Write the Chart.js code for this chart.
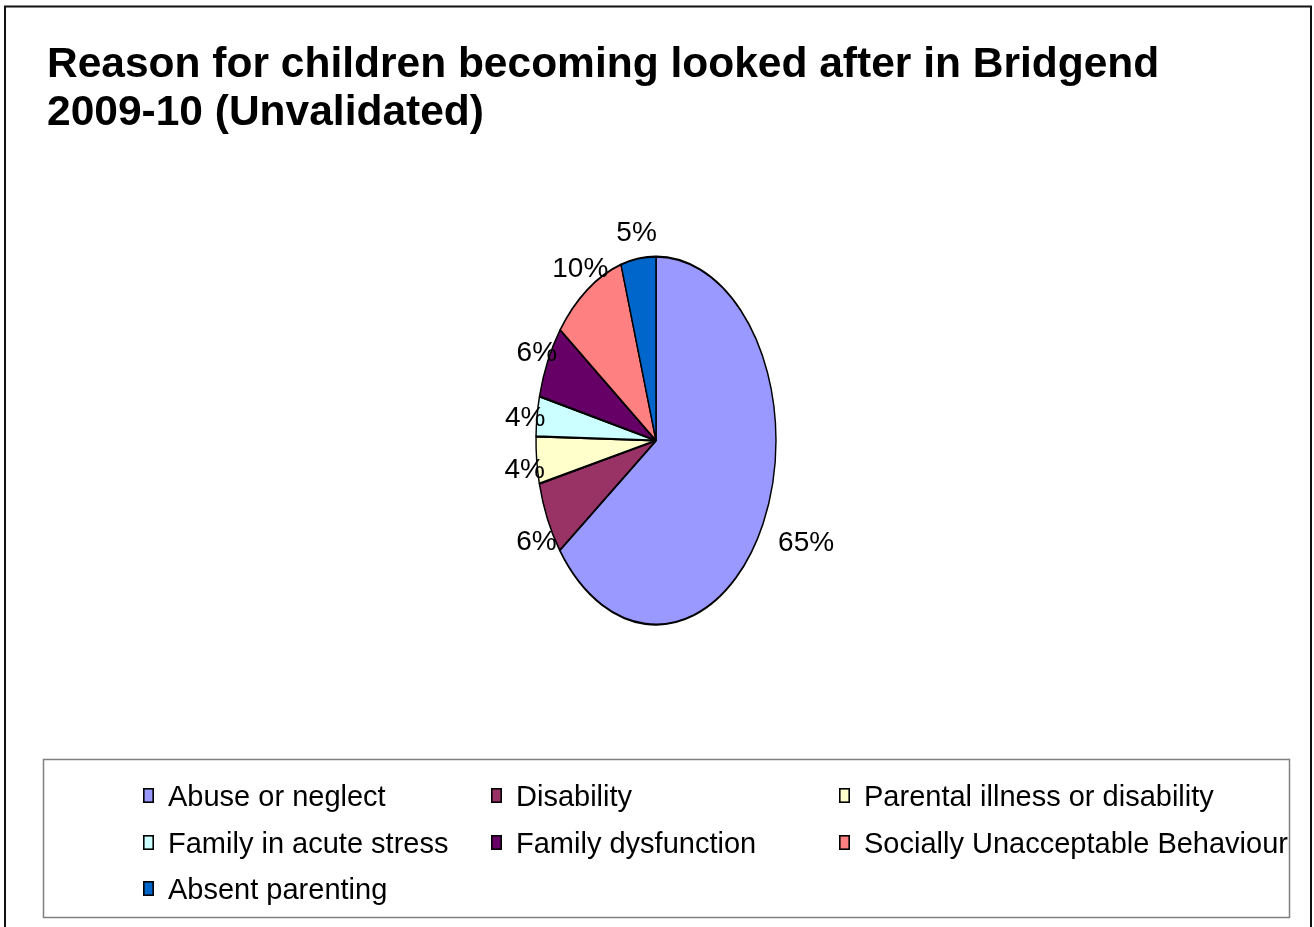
<!DOCTYPE html>
<html>
<head>
<meta charset="utf-8">
<script src="https://cdn.jsdelivr.net/npm/chart.js@4.4.1/dist/chart.umd.min.js"></script>
<style>
html,body{margin:0;padding:0;background:#fff;overflow:hidden}
canvas{display:block}
</style>
</head>
<body>
<canvas id="c" width="1314" height="927" style="width:1314px;height:927px"></canvas>
<script>
// ---- data ----
const titleLines = ['Reason for children becoming looked after in Bridgend', '2009-10 (Unvalidated)'];
const categories = [
  'Abuse or neglect',
  'Disability',
  'Parental illness or disability',
  'Family in acute stress',
  'Family dysfunction',
  'Socially Unacceptable Behaviour',
  'Absent parenting'
];
const shares = [64.7, 6.4, 4.1, 3.5, 6.4, 10.0, 4.7];
const sliceColors = ['#9999FF', '#993366', '#FFFFCC', '#CCFFFF', '#660066', '#FF8080', '#0066CC'];

// ---- styling ----
const FONT = "Arial, 'Liberation Sans', sans-serif";
const ELLIPSE_X = 120 / 184;

const bgPlugin = {
  id: 'bg',
  beforeDraw(chart) {
    const c = chart.ctx;
    c.save();
    c.fillStyle = '#fff';
    c.fillRect(0, 0, chart.width, chart.height);
    c.restore();
  }
};

const ellipsePlugin = {
  id: 'ellipse',
  beforeDatasetsDraw(chart) {
    const arc = chart.getDatasetMeta(0).data[0];
    const c = chart.ctx;
    c.save();
    c.translate(arc.x, arc.y);
    c.scale(ELLIPSE_X, 1);
    c.translate(-arc.x, -arc.y);
  },
  afterDatasetsDraw(chart) {
    chart.ctx.restore();
  }
};

const decoPlugin = {
  id: 'deco',
  afterDraw(chart) {
    const c = chart.ctx;
    const meta = chart.getDatasetMeta(0);
    const ds = chart.data.datasets[0];
    const vals = ds.data;
    const total = vals.reduce((a, b) => a + b, 0);

    // percentage labels
    c.save();
    c.font = '28px ' + FONT;
    c.fillStyle = '#000';
    c.textBaseline = 'middle';
    c.textAlign = 'center';
    meta.data.forEach((arc, i) => {
      const p = arc.getProps(['x', 'y', 'startAngle', 'endAngle', 'outerRadius'], true);
      const mid = (p.startAngle + p.endAngle) / 2;
      const rx = p.outerRadius * ELLIPSE_X, ry = p.outerRadius;
      const txt = Math.round(vals[i] / total * 100) + '%';
      const w = c.measureText(txt).width;
      const cx = Math.cos(mid), sy = Math.sin(mid);
      const lx = p.x + cx * (rx + 12) + Math.max(0, cx) * (w / 2 + 8);
      const ly = p.y + sy * (ry + 32) + 6 + Math.max(0, sy) * 10 * Math.max(0, -cx);
      c.fillText(txt, lx, ly);
    });
    c.restore();

    // legend box
    c.save();
    c.strokeStyle = '#808080';
    c.lineWidth = 1.5;
    c.strokeRect(43.5, 759.5, 1246, 158);
    const colX = [143, 491, 839];
    const rowY = [795, 842, 888];
    c.font = '29px ' + FONT;
    c.textBaseline = 'middle';
    c.textAlign = 'left';
    chart.data.labels.forEach((lab, i) => {
      const col = i % 3, row = Math.floor(i / 3);
      const x = colX[col], y = rowY[row];
      c.fillStyle = ds.backgroundColor[i];
      c.fillRect(x, y - 7, 11, 15);
      c.strokeStyle = '#000';
      c.lineWidth = 1.6;
      c.strokeRect(x + 0.8, y - 6.2, 9.4, 13.4);
      c.fillStyle = '#000';
      c.fillText(lab, x + 25, y + 3);
    });
    c.restore();

    // outer frame
    c.save();
    c.strokeStyle = '#111';
    c.lineWidth = 2;
    c.strokeRect(5, 6.5, 1306, 1000);
    c.restore();
  }
};

new Chart(document.getElementById('c'), {
  type: 'pie',
  data: {
    labels: categories,
    datasets: [{
      data: shares,
      backgroundColor: sliceColors,
      borderColor: '#000',
      borderWidth: 2.2,
      radius: 184
    }]
  },
  options: {
    responsive: false,
    animation: false,
    events: [],
    layout: { padding: { top: 41, left: 47, right: 49, bottom: 183 } },
    plugins: {
      legend: { display: false },
      tooltip: { enabled: false },
      title: {
        display: true,
        text: titleLines,
        align: 'start',
        color: '#000',
        font: { family: FONT, size: 42.5, weight: 'bold', lineHeight: 1.13 },
        padding: { top: 0, bottom: 0 }
      }
    }
  },
  plugins: [bgPlugin, ellipsePlugin, decoPlugin]
});
</script>
</body>
</html>
